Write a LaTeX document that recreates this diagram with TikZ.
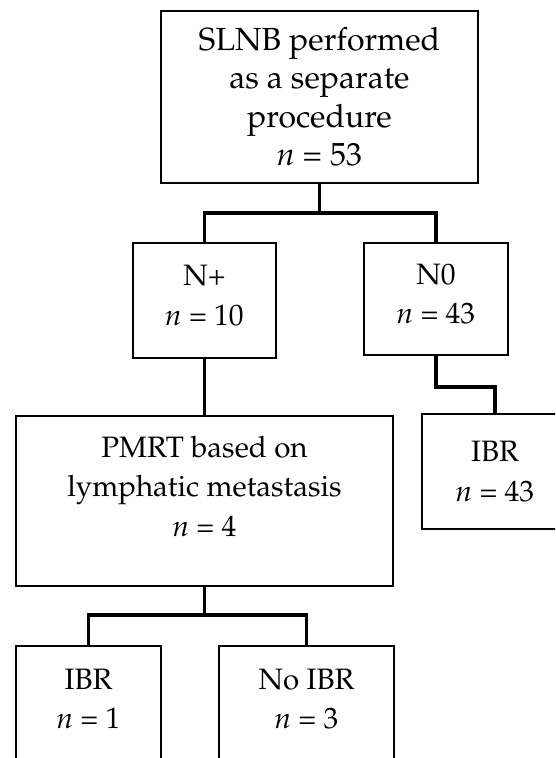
\documentclass[tikz,border=0pt]{standalone}
\usepackage[T1]{fontenc}
\usepackage{mathpazo}
\tikzset{every picture/.style = {x=1pt, y=-1pt}}
\tikzset{box/.style = {draw, line width=1.8pt, rectangle, align=center, inner sep=0pt,
  font=\fontsize{29.5}{39.5}\selectfont}}
\tikzset{bigbox/.style = {box, font=\fontsize{32}{38.5}\selectfont}}
\tikzset{link/.style = {line width=3.8pt}}

\begin{document}
\begin{tikzpicture}
  \useasboundingbox (0, 0) rectangle (555, 758);
  \clip (0, 0) rectangle (555, 758);
  % boxes
  \node[bigbox, minimum width=317, minimum height=172] (slnb) at (319.5, 97)
    {SLNB performed\\as a separate\\procedure\\\textit{n} = 53};
  \node[box, minimum width=143, minimum height=115, text depth=10pt] (npos) at (204.5, 300.5)
    {N+\\\textit{n} = 10};
  \node[box, minimum width=144, minimum height=112, text depth=10pt] (nneg) at (436, 299)
    {N0\\\textit{n} = 43};
  \node[box, minimum width=146, minimum height=115] (ibrneg) at (495, 471.5)
    {IBR\\\textit{n} = 43};
  \node[box, minimum width=377, minimum height=170, text depth=30pt] (pmrt) at (204.5, 501)
    {PMRT based on\\lymphatic metastasis\\\textit{n} = 4};
  \node[box, minimum width=145, minimum height=114, text depth=8pt] (ibr) at (88.5, 703)
    {IBR\\\textit{n} = 1};
  \node[box, minimum width=175, minimum height=114, text depth=8pt] (noibr) at (306.5, 703)
    {No IBR\\\textit{n} = 3};
  % connectors
  \coordinate (j1) at (319.5, 213);
  \coordinate (j2) at (436, 387);
  \coordinate (j3) at (204.5, 615);
  \draw[link] (slnb.south) -- (j1) -| (npos.north);
  \draw[link] (j1) -| (nneg.north);
  \draw[link] (nneg.south) -- (j2) -| (ibrneg.north);
  \draw[link] (npos.south) -- (pmrt.north);
  \draw[link] (pmrt.south) -- (j3) -| (ibr.north);
  \draw[link] (j3) -| (noibr.north);
\end{tikzpicture}
\end{document}
